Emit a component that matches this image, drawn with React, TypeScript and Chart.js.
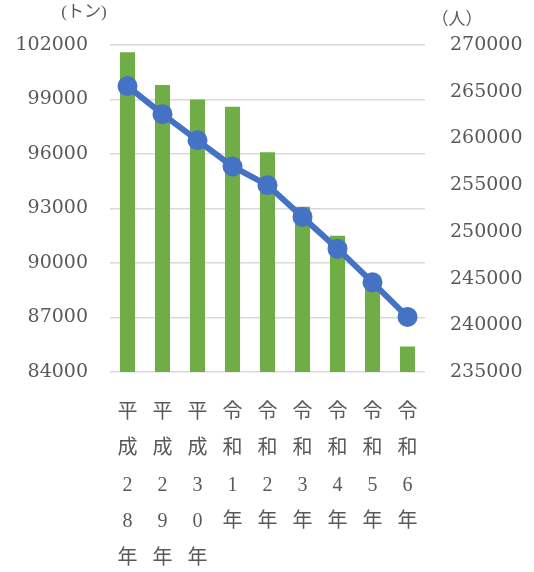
import React, { useEffect, useRef } from "react";
import { Chart, registerables } from "chart.js";

Chart.register(...registerables);

const categories: string[][] = [
  ["平", "成", "2", "8", "年"],
  ["平", "成", "2", "9", "年"],
  ["平", "成", "3", "0", "年"],
  ["令", "和", "1", "年"],
  ["令", "和", "2", "年"],
  ["令", "和", "3", "年"],
  ["令", "和", "4", "年"],
  ["令", "和", "5", "年"],
  ["令", "和", "6", "年"],
];

const wasteTons: number[] = [101600, 99800, 99000, 98600, 96100, 93100, 91500, 89000, 85400];
const population: number[] = [265600, 262600, 259800, 257000, 255000, 251600, 248200, 244600, 240900];

const leftTicks = { min: 84000, max: 102000, step: 3000 };
const rightTicks = { min: 235000, max: 270000, step: 5000 };

const leftUnit = "(トン)";
const rightUnit = "（人）";

const GREEN = "#70AD47";
const BLUE = "#4472C4";
const GRAY = "#595959";
const GRID = "#d9d9d9";

const numFont = "'DejaVu Serif', 'Liberation Serif', serif";
const cjkFont = "'Liberation Serif', 'Noto Sans CJK JP', serif";

export default function App() {
  const ref = useRef<HTMLCanvasElement | null>(null);

  useEffect(() => {
    if (!ref.current) return;
    const unitPlugin = {
      id: "units",
      afterDraw(chart: any) {
        const { ctx, chartArea } = chart;
        ctx.save();
        ctx.fillStyle = GRAY;
        ctx.textAlign = "center";
        ctx.textBaseline = "middle";
        ctx.font = "17px 'Liberation Serif', 'Noto Sans CJK JP', serif";
        ctx.fillText(leftUnit, chartArea.left - 26, chartArea.top - 32);
        ctx.font = "17px 'Noto Sans CJK JP', serif";
        ctx.fillText(rightUnit, chartArea.right + 32, chartArea.top - 26);
        ctx.restore();
      },
    };

    const chart = new Chart(ref.current, {
      type: "bar",
      data: {
        labels: categories,
        datasets: [
          {
            type: "line",
            data: population,
            yAxisID: "y1",
            borderColor: BLUE,
            backgroundColor: BLUE,
            borderWidth: 6,
            pointRadius: 10,
            pointBorderWidth: 0,
            pointBackgroundColor: BLUE,
            order: 0,
          } as any,
          {
            type: "bar",
            data: wasteTons,
            yAxisID: "y",
            backgroundColor: GREEN,
            barPercentage: 0.43,
            categoryPercentage: 1,
            order: 1,
          },
        ],
      },
      options: {
        animation: false,
        responsive: false,
        maintainAspectRatio: false,
        layout: { padding: { top: 45, left: 0, right: 0, bottom: 0 } },
        plugins: { legend: { display: false }, tooltip: { enabled: false } },
        scales: {
          x: {
            offset: true,
            grid: { display: false, drawTicks: false },
            border: { display: false },
            ticks: {
              color: GRAY,
              padding: 22,
              maxRotation: 0,
              autoSkip: false,
              font: { family: cjkFont, size: 20, lineHeight: 1.825 },
            },
            afterFit(scale: any) {
              scale.height = 200;
            },
          },
          y: {
            position: "left",
            min: leftTicks.min,
            max: leftTicks.max,
            grid: { color: GRID, lineWidth: 1.5, drawTicks: false },
            border: { display: false },
            ticks: {
              stepSize: leftTicks.step,
              color: GRAY,
              padding: 22,
              font: { family: numFont, size: 19 },
              callback: (v: any) => String(v),
            },
            afterFit(scale: any) {
              scale.width = 110;
            },
          },
          y1: {
            position: "right",
            min: rightTicks.min,
            max: rightTicks.max,
            grid: { display: false, drawTicks: false },
            border: { display: false },
            ticks: {
              stepSize: rightTicks.step,
              color: GRAY,
              padding: 25,
              font: { family: numFont, size: 19 },
              callback: (v: any) => String(v),
            },
            afterFit(scale: any) {
              scale.width = 109;
            },
          },
        },
      },
      plugins: [unitPlugin],
    });
    return () => chart.destroy();
  }, []);

  return (
    <div style={{ position: "fixed", left: 0, top: 0, width: 534, height: 572, background: "#fff" }}>
      <canvas ref={ref} width={534} height={572} style={{ width: 534, height: 572 }} />
    </div>
  );
}
